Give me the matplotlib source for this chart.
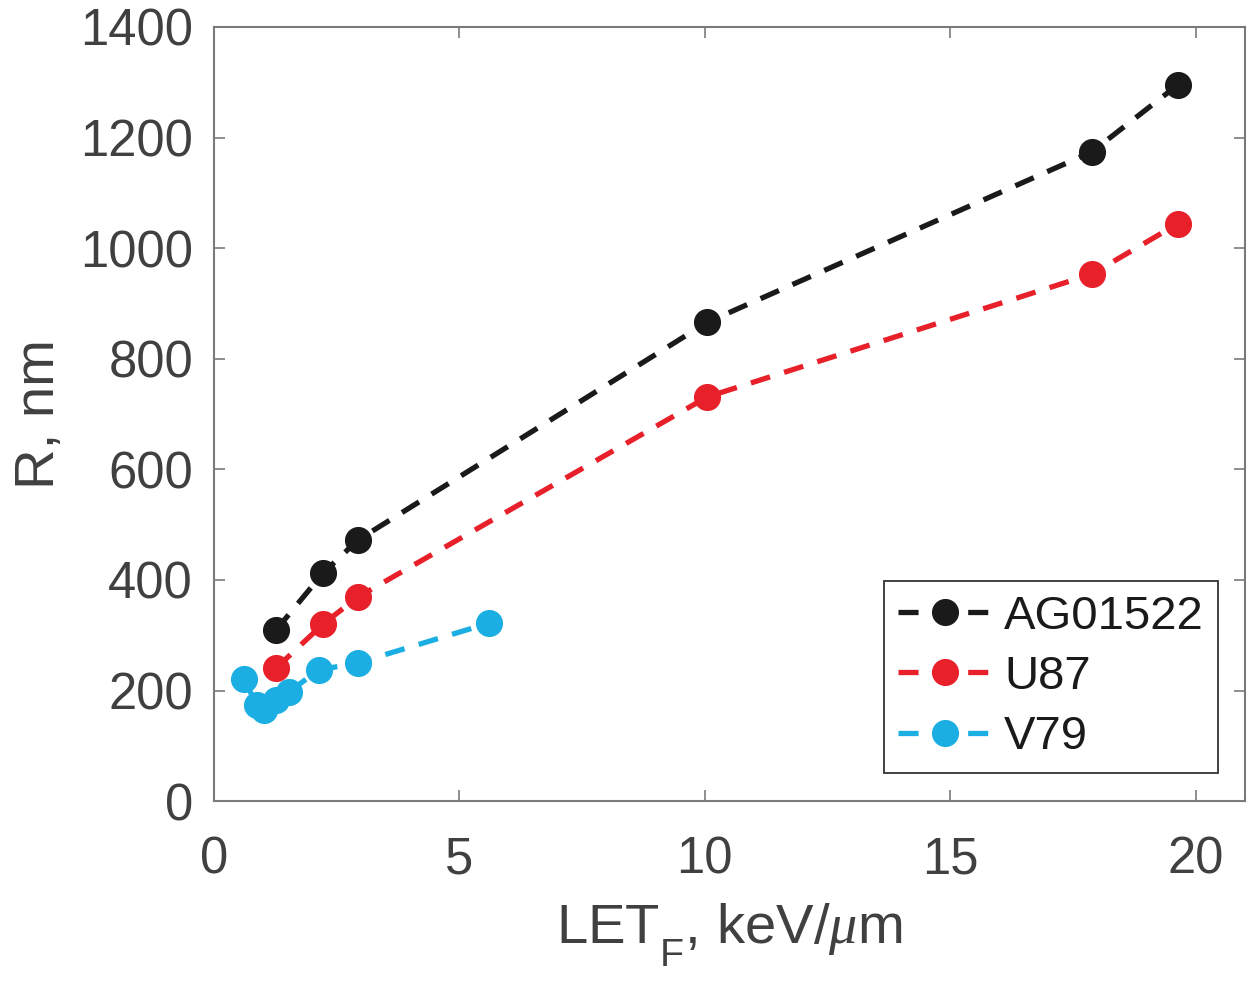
import matplotlib
matplotlib.use("Agg")
import matplotlib.pyplot as plt

try:
    import matplotlib._mathtext as _mt
    _mt.FontConstantsBase.sub1 = 0.9
except Exception:
    pass

plt.rcParams['font.family'] = ['Liberation Sans', 'DejaVu Sans']
plt.rcParams['mathtext.fontset'] = 'custom'
plt.rcParams['mathtext.rm'] = 'Liberation Sans'
plt.rcParams['mathtext.it'] = 'Liberation Serif:italic'

series_names = ["AG01522", "U87", "V79"]
ag_x = [1.26, 2.22, 2.93, 10.05, 17.88, 19.63]
ag_y = [309, 412, 472, 866, 1174, 1295]
u87_x = [1.26, 2.22, 2.93, 10.05, 17.88, 19.63]
u87_y = [240, 320, 369, 731, 953, 1044]
v79_x = [0.61, 0.87, 1.02, 1.26, 1.52, 2.13, 2.93, 5.61]
v79_y = [221, 174, 165, 183, 197, 237, 250, 322]
x_ticks = [0, 5, 10, 15, 20]
y_ticks = [0, 200, 400, 600, 800, 1000, 1200, 1400]

colors = ["#1a1a1a", "#e8202a", "#1aaee2"]

fig = plt.figure(figsize=(12.6, 9.89), dpi=100)
ax = fig.add_axes([0.1698, 0.190, 0.988 - 0.1698, 0.9727 - 0.190])

for xs, ys, c, name in zip([ag_x, u87_x, v79_x], [ag_y, u87_y, v79_y], colors, series_names):
    ax.plot(xs, ys, linestyle=(0, (3.8, 2.8)), lw=3.8, color=c, marker='o',
            markersize=18.5, markerfacecolor=c, markeredgecolor=c, label=name)

ax.set_xlim(0, 21)
ax.set_ylim(0, 1400)
ax.set_xticks(x_ticks)
ax.set_yticks(y_ticks)
ax.tick_params(direction='in', length=8, width=1.2, top=True, right=True,
               labelsize=36.5, colors='#7a7a7a', labelcolor='#404040')
ax.tick_params(axis='x', pad=25)
ax.tick_params(axis='y', pad=15)
for s in ax.spines.values():
    s.set_color('#7a7a7a')
    s.set_linewidth(1.5)

ax.set_xlabel(r'LET$_\mathregular{F}$, keV/$\mathit{\mu}$m', fontsize=40.5, color='#404040', labelpad=12)
ax.set_ylabel('R, nm', fontsize=40.5, color='#404040', labelpad=10)

leg = ax.legend(loc='lower right', bbox_to_anchor=(0.9738, 0.036), borderaxespad=0,
                fontsize=34, handlelength=2.0, handletextpad=0.25, labelspacing=0.34,
                fancybox=False, framealpha=1, edgecolor='#333333', borderpad=0.3)
leg.get_frame().set_linewidth(1.3)
for t in leg.get_texts():
    t.set_color('#1a1a1a')

fig.savefig("out.png", dpi=100)
